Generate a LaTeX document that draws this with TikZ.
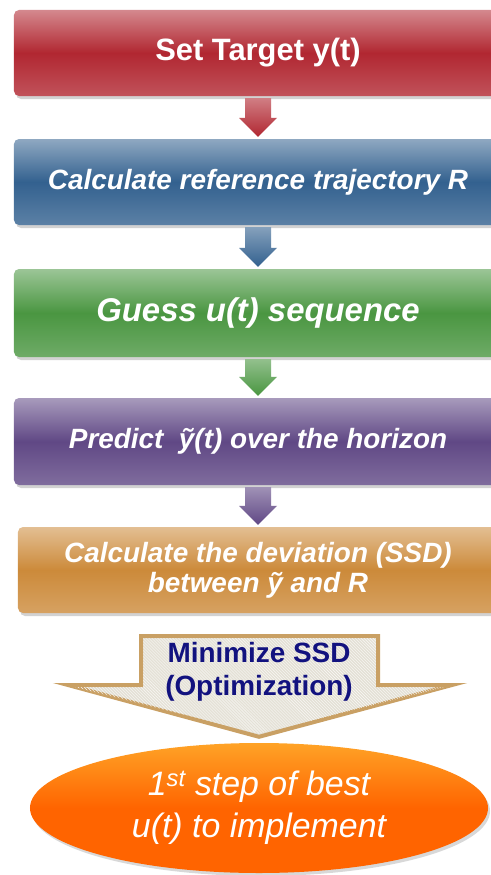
\documentclass[tikz,border=0pt]{standalone}
\usepackage{fontspec}
\setmainfont{Liberation Sans}
\usetikzlibrary{shapes.geometric,shadows,patterns,calc}
\definecolor{redm}{HTML}{B12731}
\definecolor{bluem}{HTML}{33618F}
\definecolor{greenm}{HTML}{4A9641}
\definecolor{purplem}{HTML}{604885}
\definecolor{orangem}{HTML}{CC8A3A}
\definecolor{tan}{HTML}{C9A064}
\definecolor{paper}{HTML}{E4E1D6}
\definecolor{navy}{HTML}{12127F}
\definecolor{flame}{HTML}{FF6400}
\begin{document}
\begin{tikzpicture}[x=1bp,y=1bp]
  \tikzstyle{etape}=[rounded corners=5bp, minimum width=488bp, minimum height=86bp, inner sep=0pt,
    text=white, align=center, drop shadow={opacity=0.35, shadow xshift=2bp, shadow yshift=-3bp}]
  \tikzset{grad/.style={top color=#1!55!white, bottom color=#1!80!white, middle color=#1}}
  \useasboundingbox (0,0) rectangle (491,-875);
  \clip (0,0) rectangle (491,-875);
  \fill[white] (0,0) rectangle (491,-875);
  \node[etape, grad=redm, font=\fontsize{31}{36}\selectfont\bfseries] (target) at (258,-53) {Set Target y(t)};
  \node[etape, grad=bluem, font=\fontsize{28}{32}\selectfont\bfseries\itshape] (ref) at (258,-182) {Calculate reference trajectory R};
  \node[etape, grad=greenm, minimum height=88bp, font=\fontsize{33}{38}\selectfont\bfseries\itshape] (guess) at (258,-313) {Guess u(t) sequence};
  \node[etape, grad=purplem, minimum height=87bp, font=\fontsize{28}{32}\selectfont\bfseries\itshape] (predict) at (258,-441.5) {Predict~ ỹ(t) over the horizon};
  \node[etape, grad=orangem, minimum width=480bp, font=\fontsize{28}{30}\selectfont\bfseries\itshape] (dev) at (258,-570) {Calculate the deviation (SSD)\\between ỹ and R};
  % small arrows between the steps
  \foreach \a/\b/\c in {target/ref/redm, ref/guess/bluem, guess/predict/greenm, predict/dev/purplem}
    \shade[top color=\c!60!white, bottom color=\c] ($(\a.south)+(-13,-2)$) -- ($(\a.south)+(13,-2)$)
      -- ($(\b.north)+(13,21)$) -- ($(\b.north)+(19,21)$) -- ($(\b.north)+(0,2)$)
      -- ($(\b.north)+(-19,21)$) -- ($(\b.north)+(-13,21)$) -- cycle;
  \node[ellipse, minimum width=458bp, minimum height=130bp, inner sep=0pt, text=white, align=center,
    top color=flame!70!yellow!85!white, bottom color=flame, middle color=flame,
    drop shadow={opacity=0.3, shadow xshift=2bp, shadow yshift=-3bp},
    font=\fontsize{34}{42}\selectfont\itshape] (best) at (259,-808) {1\textsuperscript{st} step of best\\u(t) to implement};
  % big arrow
  \filldraw[fill=paper, draw=tan, line width=4bp, line join=miter] (141,-636) -- (378,-636) -- (378,-685) -- (452,-685)
    -- ($(best.north)+(0,6)$) -- (68,-685) -- (141,-685) -- cycle;
  \fill[pattern=north west lines, pattern color=white!80!paper] (143,-638) -- (376,-638) -- (376,-687) -- (445,-687)
    -- ($(best.north)+(0,9)$) -- (75,-687) -- (143,-687) -- cycle;
  \node[text=navy, align=center, font=\fontsize{28}{33}\selectfont\bfseries] (mini) at (259,-672) {Minimize SSD\\(Optimization)};
\end{tikzpicture}
\end{document}
